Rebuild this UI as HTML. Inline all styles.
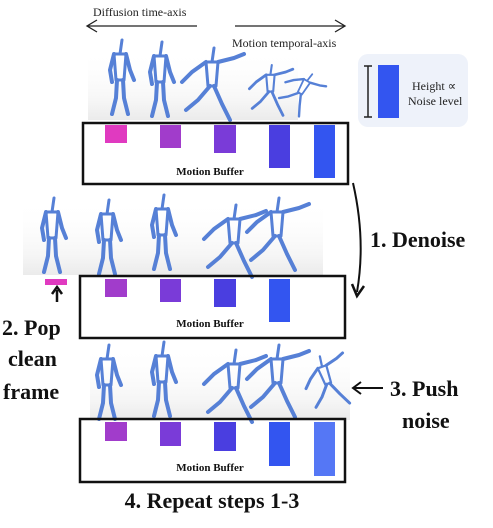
<!DOCTYPE html>
<html><head><meta charset="utf-8"><style>
body{margin:0;width:493px;height:528px;background:#fff;overflow:hidden;position:relative;font-family:"Liberation Serif",serif;}
svg{position:absolute;left:0;top:0}
</style></head><body>
<svg width="493" height="528" viewBox="0 0 493 528">
<defs>
<linearGradient id="sh" x1="0" y1="0" x2="0" y2="1">
<stop offset="0" stop-color="#fff" stop-opacity="0"/><stop offset="0.75" stop-color="#f5f5f5"/><stop offset="1" stop-color="#ebebeb"/></linearGradient>
<g id="fa" fill="none" stroke="#5680d6" stroke-width="4" stroke-linecap="round" stroke-linejoin="round">
<path d="M12 0 L10 14 M4 14 L16 14 L14 40 L6 40 Z" stroke-width="3"/>
<path d="M4 14 L0 30 L2 42 M16 14 L20 30 L24 40"/>
<path d="M7 40 L6 58 L2 74 M13 40 L14 58 L18 74"/>
</g>
<g id="fb" fill="none" stroke="#5680d6" stroke-width="4" stroke-linecap="round" stroke-linejoin="round">
<path d="M14 0 L12 14 M6 14 L18 14 L16 38 L8 38 Z" stroke-width="3"/>
<path d="M6 14 L-8 24 L-18 34 M18 14 L34 10 L44 6"/>
<path d="M10 38 L-2 52 L-14 62 M14 38 L22 56 L30 72"/>
</g>
</defs>
<rect x="88" y="50" width="210" height="70" fill="url(#sh)"/>
<rect x="23" y="200" width="300" height="75" fill="url(#sh)"/>
<rect x="90" y="345" width="260" height="75" fill="url(#sh)"/>

<text x="93" y="16" font-size="12" fill="#222">Diffusion time-axis</text>
<path d="M197 26 H87 M97 20 L87 26 L97 32" stroke="#222" stroke-width="1.3" fill="none"/>
<path d="M235 26 H345 M335 20 L345 26 L335 32" stroke="#222" stroke-width="1.3" fill="none"/>
<text x="232" y="47" font-size="12" fill="#222">Motion temporal-axis</text>

<rect x="358" y="54" width="110" height="73" rx="10" fill="#eef2fa"/>
<path d="M368 66 V117 M364 66 H372 M364 117 H372" stroke="#222" stroke-width="1.5"/>
<rect x="378" y="65" width="21" height="53" fill="#3355f0"/>
<text x="412" y="90" font-size="12" fill="#222">Height ∝</text>
<text x="408" y="105" font-size="12" fill="#222">Noise level</text>

<use href="#fa" x="110" y="40"/>
<use href="#fa" x="150" y="42"/>
<use href="#fb" x="200" y="48"/>
<use href="#fb" x="262" y="65" transform="translate(262 65) scale(0.7) translate(-262 -65)"/>
<use href="#fb" x="305" y="70" transform="translate(305 70) scale(0.6) rotate(30) translate(-305 -70)"/>

<rect x="83" y="123" width="265" height="61" fill="none" stroke="#111" stroke-width="2.5"/>
<rect x="105" y="125" width="22" height="18" fill="#e03ac0"/>
<rect x="160" y="125" width="21" height="23" fill="#a13ccb"/>
<rect x="214" y="125" width="22" height="28" fill="#7a3bd8"/>
<rect x="269" y="125" width="21" height="43" fill="#4a3ee0"/>
<rect x="314" y="125" width="21" height="53" fill="#3355f0"/>
<text x="210" y="175" font-size="11" font-weight="bold" text-anchor="middle" fill="#111">Motion Buffer</text>

<path d="M353 183 Q366 240 357 292" stroke="#111" stroke-width="2" fill="none"/>
<path d="M352 284 L357 296 L364 286" stroke="#111" stroke-width="2.5" fill="none"/>
<text x="370" y="247" font-size="22" font-weight="bold" fill="#111">1. Denoise</text>

<use href="#fa" x="42" y="198"/>
<use href="#fa" x="97" y="200"/>
<use href="#fa" x="152" y="195"/>
<use href="#fb" x="222" y="205"/>
<use href="#fb" x="265" y="198"/>

<rect x="45" y="279" width="22" height="6" fill="#e03ac0"/>
<path d="M57 302 V290 M52 294 L57 287 L62 294" stroke="#111" stroke-width="2.5" fill="none"/>
<rect x="80" y="276" width="265" height="62" fill="none" stroke="#111" stroke-width="2.5"/>
<rect x="105" y="279" width="22" height="18" fill="#a13ccb"/>
<rect x="160" y="279" width="21" height="23" fill="#7a3bd8"/>
<rect x="214" y="279" width="22" height="28" fill="#4a3ee0"/>
<rect x="269" y="279" width="21" height="43" fill="#3355f0"/>
<text x="210" y="327" font-size="11" font-weight="bold" text-anchor="middle" fill="#111">Motion Buffer</text>
<text x="2" y="335" font-size="22" font-weight="bold" fill="#111">2. Pop</text>
<text x="8" y="366" font-size="22" font-weight="bold" fill="#111">clean</text>
<text x="3" y="399" font-size="22" font-weight="bold" fill="#111">frame</text>

<use href="#fa" x="97" y="345"/>
<use href="#fa" x="152" y="342"/>
<use href="#fb" x="222" y="350"/>
<use href="#fb" x="265" y="345"/>
<use href="#fb" x="310" y="360" transform="translate(310 360) scale(0.75) rotate(-20) translate(-310 -360)"/>

<path d="M383 388 H354 M361 382 L353 388 L361 394" stroke="#111" stroke-width="2" fill="none"/>
<text x="390" y="396" font-size="22" font-weight="bold" fill="#111">3. Push</text>
<text x="402" y="428" font-size="22" font-weight="bold" fill="#111">noise</text>

<rect x="80" y="419" width="265" height="63" fill="none" stroke="#111" stroke-width="2.5"/>
<rect x="105" y="422" width="22" height="19" fill="#a13ccb"/>
<rect x="160" y="422" width="21" height="24" fill="#7a3bd8"/>
<rect x="214" y="422" width="22" height="29" fill="#4a3ee0"/>
<rect x="269" y="422" width="21" height="44" fill="#3355f0"/>
<rect x="314" y="422" width="21" height="54" fill="#5577f5"/>
<text x="210" y="471" font-size="11" font-weight="bold" text-anchor="middle" fill="#111">Motion Buffer</text>
<text x="212" y="508" font-size="22" font-weight="bold" text-anchor="middle" fill="#111">4. Repeat steps 1-3</text>
</svg>
</body></html>
